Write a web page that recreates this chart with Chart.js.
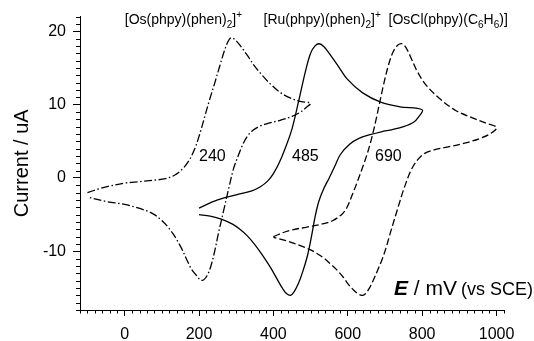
<!DOCTYPE html>
<html><head><meta charset="utf-8">
<script src="https://cdn.jsdelivr.net/npm/chart.js@4/dist/chart.umd.min.js"></script>
<style>html,body{margin:0;padding:0;background:#fff}#wrap{width:534px;height:341px}</style>
</head><body><div id="wrap"><canvas id="c" width="534" height="341"></canvas></div>
<script>
// ---- data (E in mV vs SCE, current in uA) ----
const osE = [-100,-70,-40,0,40,80,110,135,155,172,188,202,215,228,242,256,268,278,286,296,310,330,350,370,390,420,450,475,500,
             488,470,450,420,390,365,345,330,318,306,293,280,266,252,242,232,222,212,204,195,185,177,165,152,140,130,115,100,80,60,30,0,-50,-100];
const osI = [-2.0,-1.5,-1.1,-0.7,-0.5,-0.3,-0.1,0.4,1.2,2.3,3.9,6.0,8.3,10.6,12.9,15.3,17.3,18.6,19.1,18.9,18.1,16.7,15.2,14.0,12.9,11.6,10.8,10.4,10.2,
             9.6,8.9,8.4,7.9,7.5,7.1,6.5,5.7,4.6,3.1,1.3,-1.4,-4.5,-7.6,-10.0,-12.0,-13.3,-13.9,-13.9,-13.4,-12.8,-12.2,-10.9,-9.5,-8.4,-7.6,-6.6,-5.8,-5.0,-4.5,-4.0,-3.6,-3.2,-2.6];

const ruE = [200,250,300,340,365,385,400,415,430,450,468,486,500,512,523,536,550,571,600,640,690,740,800,
             790,777,750,720,690,660,630,605,580,565,550,535,522,512,503,492,480,468,456,446,436,425,410,392,370,350,330,310,290,260,230,200];
const ruI = [-4.1,-3.0,-2.3,-1.8,-1.2,-0.4,0.6,2.0,3.8,6.7,10.5,14.5,17.0,18.0,18.3,17.9,17.0,15.5,13.4,11.6,10.3,9.7,9.3,
             8.3,7.6,7.0,6.6,6.3,5.9,5.4,4.6,3.2,1.6,0.0,-1.5,-3.2,-5.3,-7.8,-10.5,-12.6,-14.3,-15.5,-16.0,-15.8,-15.1,-13.8,-12.2,-10.5,-9.1,-7.9,-7.0,-6.3,-5.6,-5.2,-5.0];

const osclE = [400,440,490,530,560,585,598,612,625,638,651,663,674,685,697,710,722,734,746,756,768,786,810,845,890,935,970,1000,
               985,956,911,867,830,805,790,777,766,757,748,740,731,722,712,703,693,680,668,656,645,638,628,616,600,589,570,553,535,517,500,481,460,437,400];
const osclI = [-8.0,-7.2,-6.7,-6.3,-5.8,-4.9,-4.0,-2.3,-0.6,1.2,3.1,5.2,7.5,10.1,12.9,15.5,17.2,18.1,18.3,17.8,16.6,14.6,12.7,10.9,9.2,8.2,7.5,6.9,
               6.1,5.4,4.7,4.2,3.8,3.3,2.6,1.7,0.6,-0.6,-1.9,-3.2,-4.7,-6.2,-7.9,-9.5,-11.0,-12.6,-14.0,-15.2,-15.9,-16.0,-15.8,-15.3,-14.4,-13.6,-12.5,-11.7,-10.9,-10.3,-9.8,-9.4,-9.0,-8.6,-8.1];

const xTicks = [0,200,400,600,800,1000];
const yTicks = [-10,0,10,20];
const halfWaveLabels = ['240','485','690'];
const halfWaveE = [236,486,709];
const titleSegments = [
  [['[Os(phpy)(phen)','n'],['2','sub'],[']','n'],['+','sup']],
  [['[Ru(phpy)(phen)','n'],['2','sub'],[']','n'],['+','sup']],
  [['[OsCl(phpy)(C','n'],['6','sub'],['H','n'],['6','sub'],[')]','n']]
];
const titleE = [158,531,870];

function pts(xs, ys){ return xs.map((x,i)=>({x:x,y:ys[i]})); }

const FONT = "'Liberation Sans', Arial, sans-serif";

function drawRich(ctx, segs, cx, baseY, size){
  const subSize = Math.round(size*0.7);
  let w = 0;
  segs.forEach(s=>{ ctx.font = (s[1]==='n'?size:subSize)+'px '+FONT; w += ctx.measureText(s[0]).width; });
  let x = cx - w/2;
  segs.forEach(s=>{
    const sz = s[1]==='n'?size:subSize;
    ctx.font = sz+'px '+FONT;
    let y = baseY;
    if (s[1]==='sub') y += size*0.3;
    if (s[1]==='sup') y -= size*0.45;
    ctx.fillText(s[0], x, y);
    x += ctx.measureText(s[0]).width;
  });
}

const decor = {
  id:'decor',
  afterDraw(chart){
    const ctx = chart.ctx, xs = chart.scales.x, ys = chart.scales.y;
    const ca = chart.chartArea;
    ctx.save();
    ctx.strokeStyle = '#000'; ctx.lineWidth = 1;
    // minor ticks
    ctx.beginPath();
    for (let v=-120; v<=1020; v+=20){
      if (v % 200 === 0) continue;
      const px = Math.round(xs.getPixelForValue(v))+0.5;
      ctx.moveTo(px, ca.bottom); ctx.lineTo(px, ca.bottom+3.5);
    }
    for (let v=-18; v<=22; v+=1){
      if (v % 10 === 0) continue;
      const py = Math.round(ys.getPixelForValue(v))+0.5;
      ctx.moveTo(ca.left, py); ctx.lineTo(ca.left-4, py);
    }
    ctx.stroke();
    // half wave potential labels
    ctx.fillStyle = '#000';
    ctx.font = '16px '+FONT;
    ctx.textAlign = 'center'; ctx.textBaseline = 'middle';
    halfWaveLabels.forEach((t,i)=>{
      ctx.fillText(t, xs.getPixelForValue(halfWaveE[i]), ys.getPixelForValue(2.9));
    });
    // titles
    ctx.textAlign = 'left'; ctx.textBaseline = 'alphabetic';
    titleSegments.forEach((segs,i)=>{
      drawRich(ctx, segs, xs.getPixelForValue(titleE[i]), 24, 14);
    });
    // x axis title
    ctx.textAlign = 'right';
    ctx.font = '18px '+FONT;
    const part3 = '(vs SCE)';
    let x = 533;
    ctx.fillText(part3, x, 295);
    x -= ctx.measureText(part3).width + 4;
    ctx.font = '21px '+FONT;
    const part2 = ' / mV';
    ctx.fillText(part2, x, 295);
    x -= ctx.measureText(part2).width;
    ctx.font = 'italic bold 21px '+FONT;
    ctx.fillText('E', x, 295);
    ctx.restore();
  }
};

const common = { showLine:true, pointRadius:0, borderColor:'#000', backgroundColor:'#000', borderWidth:1.3, tension:0.35, fill:false };

new Chart(document.getElementById('c'), {
  type:'scatter',
  data:{ datasets:[
    Object.assign({label:'Os(phen)', data:pts(osE,osI), borderDash:[8,2.5,1.5,2.5]}, common),
    Object.assign({label:'Ru(phen)', data:pts(ruE,ruI), borderDash:[]}, common),
    Object.assign({label:'OsCl', data:pts(osclE,osclI), borderDash:[7,3]}, common)
  ]},
  options:{
    responsive:false, animation:false, devicePixelRatio:1,
    layout:{ padding:{ top:13, right:30, left:0, bottom:0 } },
    plugins:{ legend:{display:false}, tooltip:{enabled:false} },
    scales:{
      x:{ type:'linear', min:-120, max:1020,
          afterBuildTicks(s){ s.ticks = xTicks.map(v=>({value:v})); },
          afterFit(s){ s.height = 31; },
          ticks:{ font:{size:16, family:FONT}, color:'#000', padding:9, maxRotation:0, autoSkip:false, callback:v=>String(v) },
          grid:{ display:true, drawOnChartArea:false, drawTicks:true, tickLength:6, color:'#000', lineWidth:1 },
          border:{ display:true, color:'#000', width:1 } },
      y:{ type:'linear', min:-18, max:22,
          afterBuildTicks(s){ s.ticks = yTicks.map(v=>({value:v})); },
          afterFit(s){ s.width = 80; },
          ticks:{ font:{size:16, family:FONT}, color:'#000', padding:7, autoSkip:false, callback:v=>String(v) },
          grid:{ display:true, drawOnChartArea:false, drawTicks:true, tickLength:7, color:'#000', lineWidth:1 },
          border:{ display:true, color:'#000', width:1 },
          title:{ display:true, text:'Current / uA', font:{size:20, family:FONT}, color:'#000', padding:{top:10,bottom:0} } }
    }
  },
  plugins:[decor]
});
</script></body></html>
